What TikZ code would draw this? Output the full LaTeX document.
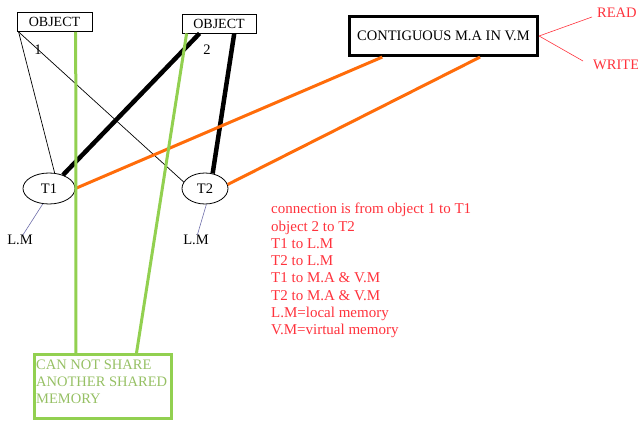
\documentclass[tikz,border=0pt]{standalone}
\usepackage{fontspec}
\setmainfont{Liberation Serif}
\usetikzlibrary{shapes.geometric}
\definecolor{shgreen}{RGB}{146,208,80}
\definecolor{shgreentxt}{RGB}{150,192,100}
\definecolor{vmorange}{RGB}{255,108,10}
\definecolor{notered}{RGB}{255,50,60}
\definecolor{lmline}{RGB}{110,110,170}
\tikzset{
	objbox/.style={draw, line width=0.8pt, inner sep=0pt, minimum height=19pt, font=\fontsize{14}{16}\selectfont},
	taskell/.style={draw, ellipse, line width=0.8pt, inner sep=0pt, minimum height=31pt, font=\fontsize{14.5}{16}\selectfont},
	plain/.style={inner sep=0pt, font=\fontsize{14.5}{16}\selectfont},
	notetxt/.style={inner sep=0pt, align=left, text=notered, font=\fontsize{15}{17.3}\selectfont}
}
\begin{document}
\begin{tikzpicture}[x=1pt, y=-1pt]
			%%%%% START %%%%%
			\useasboundingbox (0, 0) rectangle (638, 422);
			
			\node[objbox, minimum width=75pt] (obj1) at (54.5, 22) {OBJECT};
			\node[objbox, minimum width=74pt] (obj2) at (219, 23.5) {OBJECT};
			\node[plain] (num1) at (38, 50) {1};
			\node[plain] (num2) at (207, 50) {2};
			
			\node[draw, line width=3.2pt, inner sep=0pt, minimum width=188pt, minimum height=39pt, font=\fontsize{14.5}{16}\selectfont] (vm) at (443.5, 36) {CONTIGUOUS M.A IN V.M};
			\node[plain, text=notered, anchor=west] (read) at (597, 13) {READ};
			\node[plain, text=notered, anchor=west] (write) at (593, 65) {WRITE};
			\draw[notered, line width=0.6pt] (vm.east) -- ([xshift=-5pt, yshift=-4pt]read.west);
			\draw[notered, line width=0.6pt] (vm.east) -- ([xshift=-10pt, yshift=4pt]write.west);
			
			\node[taskell, minimum width=52pt] (t1) at (49, 188.5) {T1};
			\node[taskell, minimum width=46pt] (t2) at (205, 188.5) {T2};
			\node[plain] (lm1) at (20, 240) {L.M};
			\node[plain] (lm2) at (196, 240) {L.M};
			\draw[lmline, line width=0.6pt] (t1.-112) -- (lm1.60);
			\draw[lmline, line width=0.6pt] (t2.-85) -- (lm2.75);
			
			\draw[line width=0.7pt] ([xshift=2pt]obj1.south west) -- (t1.70);
			\draw[line width=0.7pt] ([xshift=2pt]obj1.south west) -- (t2.163);
			
			\draw[line width=4.5pt] (obj2.207) -- (t1.44);
			\draw[line width=4.5pt] (obj2.-33) -- (t2.63);
			
			\draw[vmorange, line width=3pt] (t1.east) -- (vm.199);
			\draw[vmorange, line width=3pt] (t2.10) -- (vm.-30);
			
			\node[draw=shgreen, line width=3pt, minimum width=137pt, minimum height=64pt, inner sep=0pt] (share) at (103, 386.5) {};
			\node[plain, anchor=north west, align=left, text=shgreentxt, font=\fontsize{14.5}{17}\selectfont] (sharetxt) at ([xshift=3pt, yshift=-7pt]share.north west) {CAN NOT SHARE\\ANOTHER SHARED\\MEMORY};
			\draw[shgreen, line width=3pt] (obj1.-25) -- (share.129);
			\draw[shgreen, line width=3pt] (obj2.197) -- (share.45);
			
			\node[notetxt, anchor=north west] (note) at (271, 203) {connection is from object 1 to T1\\object 2 to T2\\T1 to L.M\\T2 to L.M\\T1 to M.A \& V.M\\T2 to M.A \& V.M\\L.M=local memory\\V.M=virtual memory};
			
			%%%%% END %%%%%
\end{tikzpicture}
\end{document}
